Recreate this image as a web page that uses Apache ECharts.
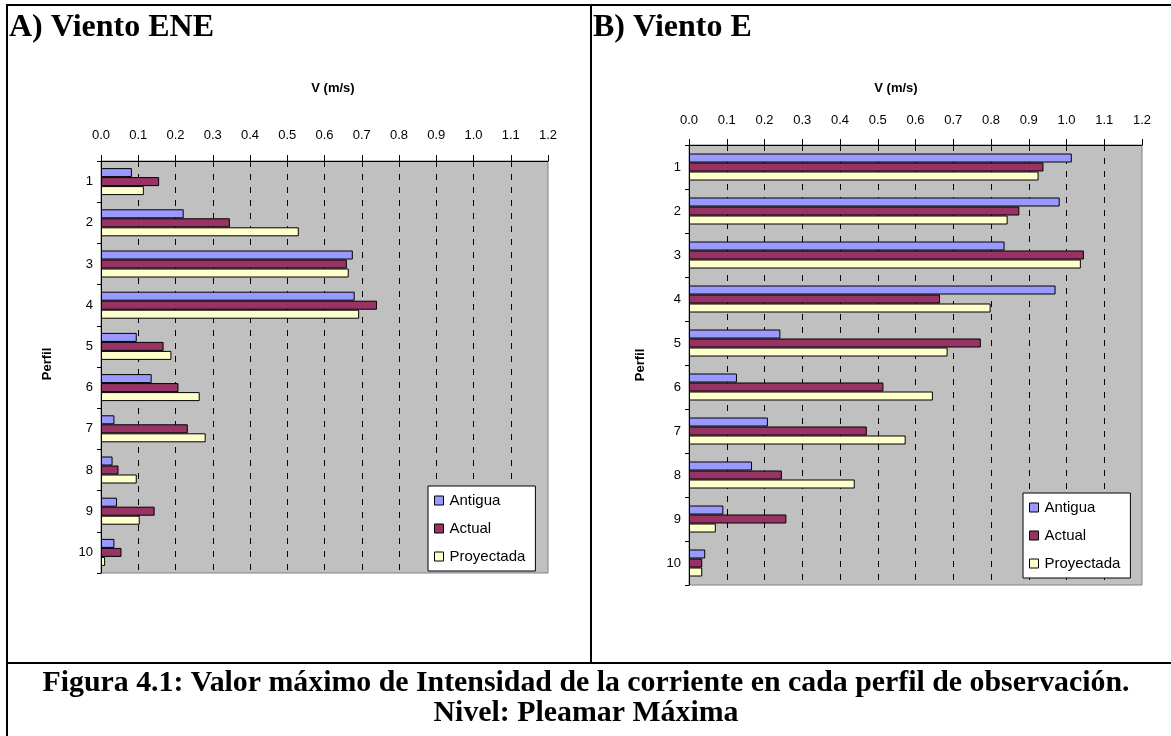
<!DOCTYPE html>
<html>
<head>
<meta charset="utf-8">
<script src="https://cdn.jsdelivr.net/npm/echarts@6/dist/echarts.min.js"></script>
<style>
  html, body { margin: 0; padding: 0; background: #ffffff; }
  #chart { width: 1171px; height: 736px; }
</style>
</head>
<body>
<div id="chart"></div>
<script>
// ---- Data ----
const categories = ['1', '2', '3', '4', '5', '6', '7', '8', '9', '10'];
const seriesNames = ['Antigua', 'Actual', 'Proyectada'];
// A) Viento ENE
const eneAntigua    = [0.083, 0.222, 0.676, 0.681, 0.096, 0.136, 0.036, 0.031, 0.043, 0.036];
const eneActual     = [0.156, 0.346, 0.660, 0.741, 0.168, 0.208, 0.233, 0.047, 0.144, 0.055];
const eneProyectada = [0.115, 0.531, 0.665, 0.693, 0.189, 0.265, 0.281, 0.096, 0.104, 0.011];
// B) Viento E
const eAntigua      = [1.014, 0.982, 0.836, 0.971, 0.242, 0.127, 0.209, 0.167, 0.091, 0.043];
const eActual       = [0.939, 0.875, 1.046, 0.665, 0.773, 0.515, 0.471, 0.246, 0.258, 0.035];
const eProyectada   = [0.926, 0.844, 1.038, 0.799, 0.685, 0.646, 0.574, 0.439, 0.071, 0.035];
// Axis
const valueMin = 0, valueMax = 1.2, valueStep = 0.1;
const axisName = 'V (m/s)';
const catName = 'Perfil';
const titleA = 'A) Viento ENE';
const titleB = 'B) Viento E';
const caption1 = 'Figura 4.1: Valor máximo de Intensidad de la corriente en cada perfil de observación.';
const caption2 = 'Nivel: Pleamar Máxima';

const colors = ['#9999FF', '#993366', '#FFFFCC'];
const SANS = "'Liberation Sans', Arial, sans-serif";
const SERIF = "'Liberation Serif', 'Times New Roman', serif";

function measure(text, font) {
  const c = document.createElement('canvas').getContext('2d');
  c.font = font;
  return c.measureText(text).width;
}

const chart = echarts.init(document.getElementById('chart'), null, { renderer: 'canvas', width: 1171, height: 736 });

const grids = [
  { left: 101, top: 161, width: 447, height: 412 },
  { left: 689, top: 145, width: 453, height: 440 }
];

function xAxisFor(i, margin) {
  return {
    type: 'value', gridIndex: i, position: 'top',
    min: valueMin, max: valueMax, interval: valueStep,
    axisLine: { show: true, lineStyle: { color: '#000', width: 1 } },
    axisTick: { show: true, length: 6, lineStyle: { color: '#000' } },
    axisLabel: { color: '#000', fontSize: 13, fontFamily: SANS, margin: margin,
      formatter: v => v.toFixed(1) },
    splitLine: { show: true, showMinLine: false, showMaxLine: false,
      lineStyle: { color: '#000', width: 1, type: [6, 7] } }
  };
}
function yAxisFor(i) {
  return {
    type: 'category', gridIndex: i, data: categories, inverse: true,
    axisLine: { show: true, lineStyle: { color: '#000', width: 1 } },
    axisTick: { show: true, length: 4, lineStyle: { color: '#000' } },
    axisLabel: { color: '#000', fontSize: 13, fontFamily: SANS, margin: 8 },
    splitLine: { show: false }
  };
}

const dataA = [eneAntigua, eneActual, eneProyectada];
const dataB = [eAntigua, eActual, eProyectada];
const series = [];
[dataA, dataB].forEach((set, gi) => {
  set.forEach((vals, k) => {
    series.push({
      type: 'bar', name: seriesNames[k], xAxisIndex: gi, yAxisIndex: gi,
      data: vals, barWidth: 9, barGap: '0%',
      itemStyle: { color: colors[k], borderColor: '#000', borderWidth: 1 },
      emphasis: { disabled: true }, animation: false
    });
  });
});

function legendFor(left, top) {
  return {
    orient: 'vertical', left: left, top: top,
    data: seriesNames,
    backgroundColor: '#fff', borderColor: '#000', borderWidth: 1,
    padding: [7, 10, 7, 6], itemGap: 13, itemWidth: 9, itemHeight: 9,
    icon: 'rect',
    itemStyle: { borderColor: '#000', borderWidth: 1 },
    textStyle: { color: '#000', fontSize: 15, fontFamily: SANS, padding: [0, 0, 0, 1] },
    selectedMode: false
  };
}

// Fit caption text width (condensed, as in the original figure)
const capFont = 'bold 29px ' + SERIF;
function fitScale(text, target) {
  const w = measure(text, capFont);
  const s = target / w;
  return (s > 0.5 && s < 1.6) ? s : 1;
}
const capScale = fitScale(caption1, 1087);

const lineStyle = { stroke: '#000', lineWidth: 2 };
const graphics = [
  { type: 'line', shape: { x1: 6, y1: 5, x2: 1171, y2: 5 }, style: lineStyle, z: 100 },
  { type: 'line', shape: { x1: 7, y1: 4, x2: 7, y2: 736 }, style: lineStyle, z: 100 },
  { type: 'line', shape: { x1: 591, y1: 5, x2: 591, y2: 663 }, style: lineStyle, z: 100 },
  { type: 'line', shape: { x1: 7, y1: 663, x2: 1171, y2: 663 }, style: lineStyle, z: 100 },
  { type: 'text', x: 9, y: 28, style: { text: titleA, font: 'bold 32px ' + SERIF, fill: '#000', verticalAlign: 'middle' } },
  { type: 'text', x: 593, y: 28, style: { text: titleB, font: 'bold 32px ' + SERIF, fill: '#000', verticalAlign: 'middle' } },
  { type: 'text', x: 333, y: 88, style: { text: axisName, font: 'bold 13px ' + SANS, fill: '#000', align: 'center', verticalAlign: 'middle' } },
  { type: 'text', x: 896, y: 88, style: { text: axisName, font: 'bold 13px ' + SANS, fill: '#000', align: 'center', verticalAlign: 'middle' } },
  { type: 'text', x: 47, y: 364, rotation: Math.PI / 2, style: { text: catName, font: 'bold 13px ' + SANS, fill: '#000', align: 'center', verticalAlign: 'middle' } },
  { type: 'text', x: 640, y: 365, rotation: Math.PI / 2, style: { text: catName, font: 'bold 13px ' + SANS, fill: '#000', align: 'center', verticalAlign: 'middle' } },
  { type: 'text', x: 586, y: 684, scaleX: capScale, style: { text: caption1, font: capFont, fill: '#000', align: 'center', verticalAlign: 'middle' } },
  { type: 'text', x: 586, y: 714, scaleX: capScale, style: { text: caption2, font: capFont, fill: '#000', align: 'center', verticalAlign: 'middle' } }
];

chart.setOption({
  backgroundColor: '#ffffff',
  animation: false,
  grid: grids.map(g => Object.assign({ show: true, backgroundColor: '#C0C0C0', borderColor: '#808080', borderWidth: 1 }, g)),
  xAxis: [xAxisFor(0, 19), xAxisFor(1, 18)],
  yAxis: [yAxisFor(0), yAxisFor(1)],
  legend: [legendFor(428, 486), legendFor(1023, 493)],
  series: series,
  graphic: graphics
});
</script>
</body>
</html>
